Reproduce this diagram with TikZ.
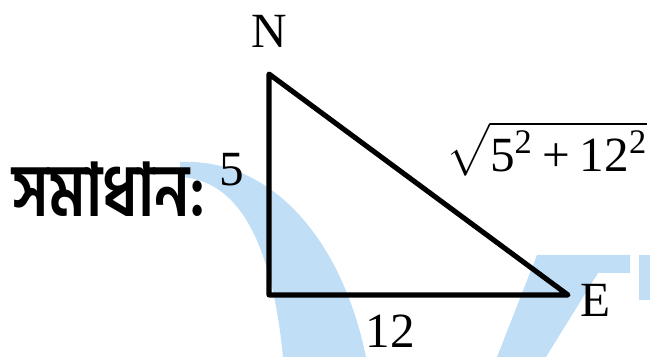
\documentclass[tikz,border=0pt]{standalone}
\usepackage{amsmath}
\usepackage{fontspec}
\setmainfont{Liberation Serif}
\newfontfamily\bnfont[Script=Bengali]{Hind Siliguri}
\usepackage{tikz}
\usetikzlibrary{positioning}
\definecolor{wmblue}{RGB}{192,223,247}

\begin{document}
\begin{tikzpicture}[
    x=0.02cm, y=-0.02cm,
    side/.style={
        draw=black,
        line width=2.9pt,
        line join=round
    },
    mark blot/.style={
        fill=wmblue,
        draw=none
    },
    tag/.style={
        font=\fontsize{28}{30}\selectfont,
        inner sep=0pt
    }
]

\useasboundingbox (0,0) rectangle (650,357);

% ============================================================
% Watermark in the back
% ============================================================

\fill[mark blot] (180,162) .. controls (272,158) and (342,240) .. (366,357)
    -- (283,357) .. controls (272,245) and (240,180) .. (180,177) -- cycle;
\fill[mark blot] (537,255) -- (630,255) -- (630,273) -- (598,273)
    -- (546,357) -- (497,357) -- cycle;
\fill[mark blot] (639,255) rectangle (650,300);

% ============================================================
% Right triangle
% ============================================================

\coordinate (apex)   at (269,74);
\coordinate (corner) at (269,295);
\coordinate (tip)    at (568,295);

\draw[side] (apex) -- (corner) -- (tip) -- cycle;

\node[tag, above=15pt of apex]            (nlab)  {N};
\node[tag, right=7pt of tip, yshift=-3pt] (elab)  {E};
\node[tag] (base) at (390,331) {12};
\node[tag] (height) at (232,170) {5};
\node[tag, anchor=base west, font=\fontsize{28}{30}\selectfont] (hyp) at (446,172)
    {$\sqrt{\text{5}^{\text{2}}\mathbin{\text{+}}\text{12}^{\text{2}}}$};

\node[tag, anchor=base west, font=\fontsize{42}{44}\selectfont\bnfont\bfseries]
    (sol) at (12,217) {\scalebox{0.82}[1]{সমাধান:}};

\end{tikzpicture}
\end{document}
